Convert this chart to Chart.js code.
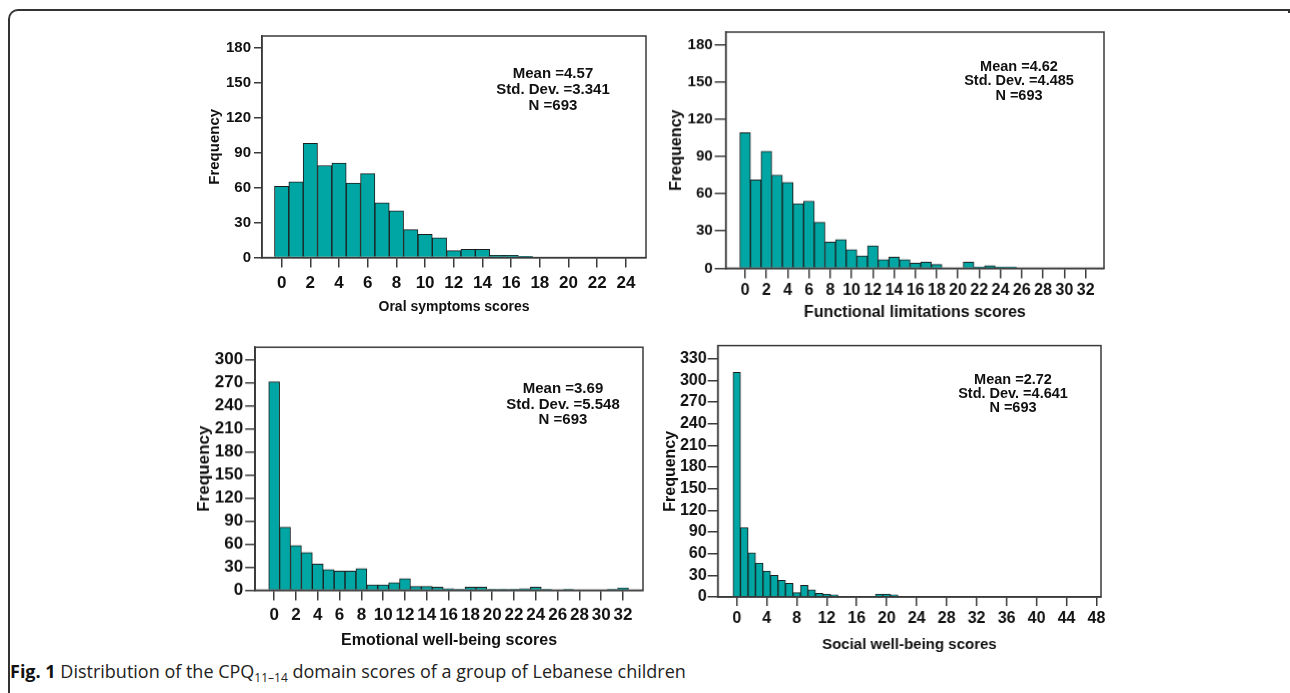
<!DOCTYPE html>
<html>
<head>
<meta charset="utf-8">
<script src="https://cdn.jsdelivr.net/npm/chart.js@4.4.1/dist/chart.umd.min.js"></script>
<style>
  html, body { margin:0; padding:0; background:#fff; }
  body { width:1290px; height:693px; position:relative; overflow:hidden; font-family:"Liberation Sans", Arial, sans-serif; }
  .frame { position:absolute; left:8px; top:9px; width:1278px; height:700px; border-top:2px solid #333; border-left:2px solid #333; border-top-left-radius:10px; }
  .frame:after { content:""; position:absolute; right:-2px; top:-2px; width:2px; height:4px; background:#333; }
  canvas.c { position:absolute; }
  .stats { position:absolute; transform:translateX(-50%); text-align:center; font-weight:bold; color:#111; white-space:nowrap; }
  .caption { position:absolute; left:10px; top:659px; font-family:"Open Sans", "Noto Sans", sans-serif; font-size:18px; color:#222; white-space:nowrap; }
  .caption b { color:#111; }
  .caption sub { font-size:12px; vertical-align:-4px; line-height:0; }
</style>
</head>
<body>
<div class="frame"></div>

<canvas class="c" id="c1"></canvas>
<canvas class="c" id="c2"></canvas>
<canvas class="c" id="c3"></canvas>
<canvas class="c" id="c4"></canvas>

<div class="stats" id="s1"></div>
<div class="stats" id="s2"></div>
<div class="stats" id="s3"></div>
<div class="stats" id="s4"></div>

<div class="caption"><b>Fig. 1</b> Distribution of the CPQ<sub>11–14</sub> domain scores of a group of Lebanese children</div>

<script>
// ---------------- DATA ----------------
// Frequencies per score value (score = array index)
const oralCounts = [61,65,98,79,81,64,72,47,40,24,20,17,6,7,7,2,2,1,0,0,0,0,0,0,0];
const functionalCounts = [109,71,94,75,69,52,54,37,21,23,15,10,18,7,9,7,4,5,3,0,0,5,1,2,1,1,0,0,0,0,0,0,0];
const emotionalCounts = [271,82,58,49,34,27,25,25,28,7,7,10,15,5,5,4,2,1,4,4,1,1,1,2,4,1,0,1,0,0,0,1,3];
const socialCounts = [311,96,61,47,36,30,23,19,6,16,10,5,4,3,1,1,1,1,1,4,4,3,0,0,0,0,0,1,1,1,0,1,0,0,0,0,0,0,0,0,0,0,1,0,0,0,0,0,0];

// Tick labels
const oralXTicks = [0,2,4,6,8,10,12,14,16,18,20,22,24];
const functionalXTicks = [0,2,4,6,8,10,12,14,16,18,20,22,24,26,28,30,32];
const emotionalXTicks = [0,2,4,6,8,10,12,14,16,18,20,22,24,26,28,30,32];
const socialXTicks = [0,4,8,12,16,20,24,28,32,36,40,44,48];
const yTicks180 = [0,30,60,90,120,150,180];
const yTicks300 = [0,30,60,90,120,150,180,210,240,270,300];
const yTicks330 = [0,30,60,90,120,150,180,210,240,270,300,330];

// Axis titles
const xTitles = ["Oral symptoms scores", "Functional limitations scores", "Emotional well-being scores", "Social well-being scores"];
const yTitle = "Frequency";

// Summary statistics
const means = ["4.57", "4.62", "3.69", "2.72"];
const stdDevs = ["3.341", "4.485", "5.548", "4.641"];
const ns = ["693", "693", "693", "693"];

// ---------------- LAYOUT / STYLE ----------------
const NARROW = "'Liberation Sans Narrow', 'Arial Narrow', 'Liberation Sans', Arial, sans-serif";
const SANS = "'Liberation Sans', Arial, sans-serif";
const BAR_COLOR = '#00a6a3';
const EDGE = '#1c1c1c';
const AXIS = '#3a3a3a';

const panels = [
  { id:'c1', counts:oralCounts, xTicks:oralXTicks, yTicks:yTicks180, xMin:-1.37, xMax:25.4, yMax:190,
    box:{L:262,T:30,R:646,B:258}, yTitleX:215, yTitleSize:15, xTitleY:308, xTitleSize:14,
    xTickFont:{family:SANS,size:17,weight:'bold'}, yTickFont:{family:SANS,size:15,weight:'bold'},
    yTickLen:8, yTickPad:3, xTickLen:10, xTickPad:6,
    stats:{x:553, y:73, size:15, lh:16} },
  { id:'c2', counts:functionalCounts, xTicks:functionalXTicks, yTicks:yTicks180, xMin:-1.82, xMax:33.73, yMax:190,
    box:{L:726,T:27,R:1104,B:268}, yTitleX:677, yTitleSize:16, xTitleY:312, xTitleSize:16,
    xTickFont:{family:SANS,size:16,weight:'bold'}, yTickFont:{family:SANS,size:15,weight:'bold'},
    yTickLen:11, yTickPad:2, xTickLen:10, xTickPad:3,
    stats:{x:1019, y:66, size:14.5, lh:14.5} },
  { id:'c3', counts:emotionalCounts, xTicks:emotionalXTicks, yTicks:yTicks300, xMin:-1.74, xMax:33.83, yMax:316,
    box:{L:255,T:341,R:643,B:590}, yTitleX:204, yTitleSize:17, xTitleY:640, xTitleSize:16,
    xTickFont:{family:NARROW,size:17,weight:'bold'}, yTickFont:{family:NARROW,size:17,weight:'bold'},
    yTickLen:10, yTickPad:2, xTickLen:10, xTickPad:5,
    stats:{x:563, y:388, size:15, lh:15.5} },
  { id:'c4', counts:socialCounts, xTicks:socialXTicks, yTicks:yTicks330, xMin:-2.54, xMax:48.6, yMax:348,
    box:{L:718,T:341,R:1101,B:597}, yTitleX:671, yTitleSize:16, xTitleY:645, xTitleSize:15,
    xTickFont:{family:SANS,size:16,weight:'bold'}, yTickFont:{family:NARROW,size:16,weight:'bold'},
    yTickLen:10, yTickPad:1, xTickLen:9, xTickPad:3,
    stats:{x:1013, y:379, size:14.5, lh:14} }
];

const boxPlugin = {
  id:'boxFrame',
  afterDraw(chart) {
    const {ctx, chartArea:a} = chart;
    ctx.save();
    ctx.strokeStyle = AXIS;
    ctx.lineWidth = 1.5;
    ctx.strokeRect(a.left, a.top, a.right - a.left, a.bottom - a.top);
    ctx.restore();
  }
};

panels.forEach((p, i) => {
  const b = p.box;
  const yLh = p.yTitleSize * 1.2;
  const xLh = p.xTitleSize * 1.2;
  const W = b.L - p.yTitleX + yLh / 2;
  const H = p.xTitleY - b.B + xLh / 2;
  const pl = 2, pt = 6, pr = 8, pb = 2;
  const cl = b.L - W - pl, ct = b.T - pt;
  const cw = (b.R - b.L) + W + pl + pr;
  const ch = (b.B - b.T) + pt + H + pb;
  const cv = document.getElementById(p.id);
  cv.style.left = cl + 'px';
  cv.style.top = ct + 'px';
  cv.style.width = cw + 'px';
  cv.style.height = ch + 'px';
  cv.width = cw; cv.height = ch;

  const pts = p.counts.map((v, k) => ({x:k, y:v}));

  new Chart(cv, {
    type:'bar',
    data:{ datasets:[{ data:pts, backgroundColor:BAR_COLOR, borderColor:EDGE, borderWidth:1,
      borderSkipped:'start', barPercentage:1, categoryPercentage:1, grouped:false }] },
    plugins:[boxPlugin],
    options:{
      responsive:false, animation:false, devicePixelRatio:1,
      layout:{ padding:{left:pl, top:pt, right:pr, bottom:pb} },
      plugins:{ legend:{display:false}, tooltip:{enabled:false} },
      scales:{
        x:{
          type:'linear', min:p.xMin, max:p.xMax, offset:false,
          afterBuildTicks:(ax) => { ax.ticks = p.xTicks.map(v => ({value:v})); },
          afterFit:(sc) => { sc.height = H; },
          ticks:{ autoSkip:false, maxRotation:0, minRotation:0, color:'#111', font:p.xTickFont, padding:p.xTickPad },
          grid:{ display:true, drawOnChartArea:false, drawTicks:true, tickLength:p.xTickLen, color:AXIS, lineWidth:1.5, offset:false },
          border:{ display:true, color:AXIS, width:1.5 },
          title:{ display:true, text:xTitles[i], color:'#111', padding:0, font:{family:SANS, size:p.xTitleSize, weight:'bold'} }
        },
        y:{
          type:'linear', min:0, max:p.yMax,
          afterBuildTicks:(ax) => { ax.ticks = p.yTicks.map(v => ({value:v})); },
          afterFit:(sc) => { sc.width = W; },
          ticks:{ autoSkip:false, color:'#111', font:p.yTickFont, padding:p.yTickPad },
          grid:{ display:true, drawOnChartArea:false, drawTicks:true, tickLength:p.yTickLen, color:AXIS, lineWidth:1.5 },
          border:{ display:true, color:AXIS, width:1.5 },
          title:{ display:true, text:yTitle, color:'#111', padding:0, font:{family:SANS, size:p.yTitleSize, weight:'bold'} }
        }
      }
    }
  });

  const s = document.getElementById('s' + (i + 1));
  s.style.left = p.stats.x + 'px';
  s.style.top = (p.stats.y - p.stats.lh / 2) + 'px';
  s.style.fontSize = p.stats.size + 'px';
  s.style.lineHeight = p.stats.lh + 'px';
  s.innerHTML = 'Mean =' + means[i] + '<br>Std. Dev. =' + stdDevs[i] + '<br>N =' + ns[i];
});
</script>
</body>
</html>
